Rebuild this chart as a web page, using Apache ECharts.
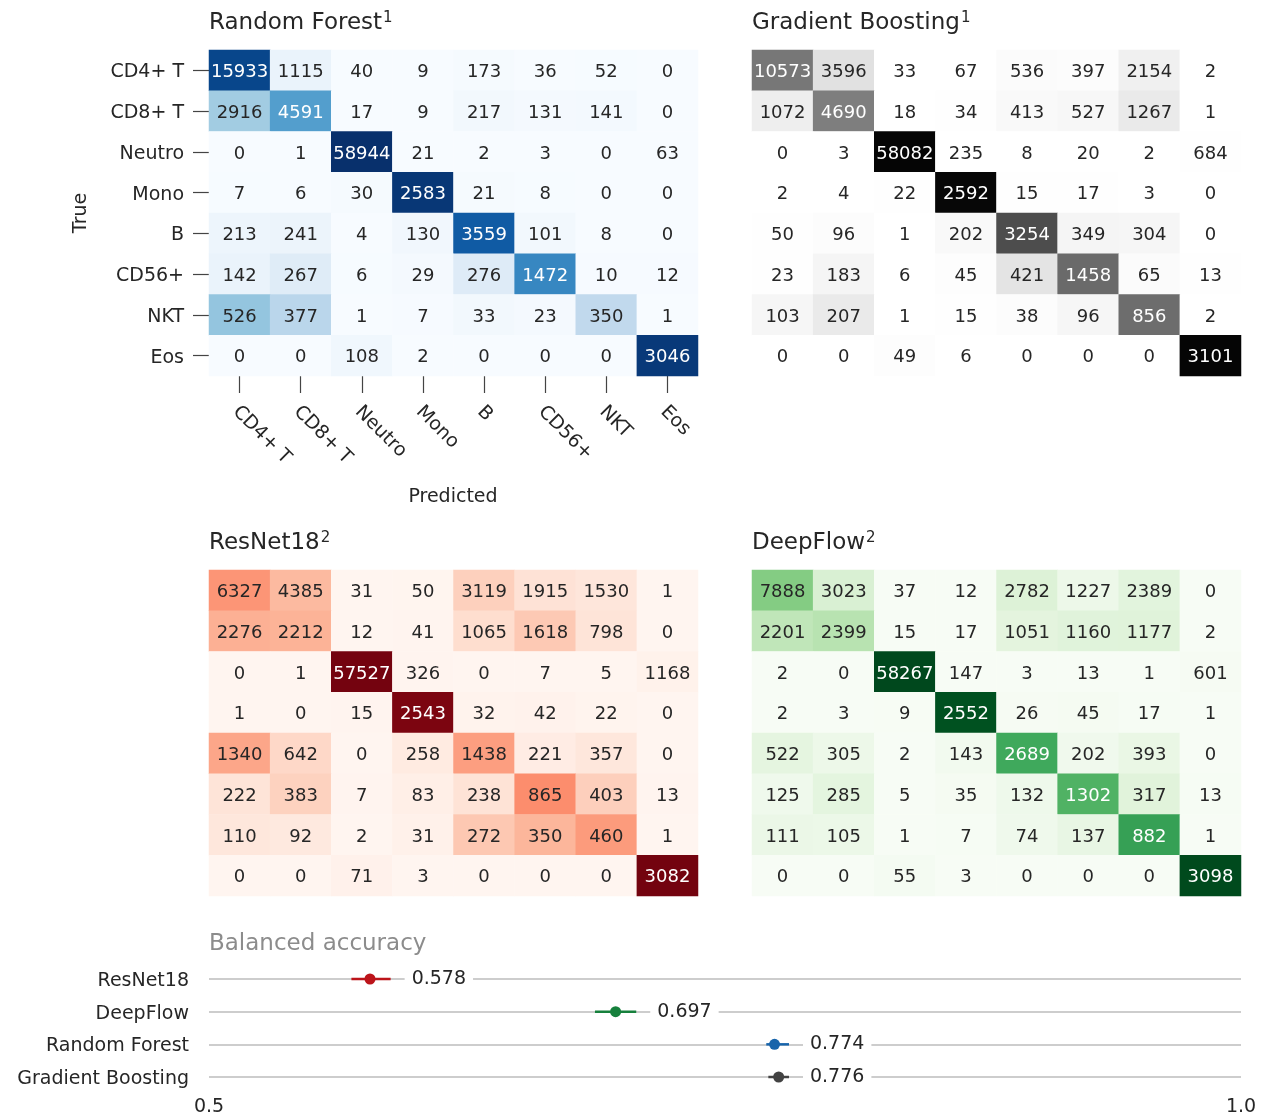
<!DOCTYPE html>
<html>
<head>
<meta charset="utf-8">
<script src="https://cdn.jsdelivr.net/npm/echarts@6/dist/echarts.min.js"></script>
<style>
  html, body { margin: 0; padding: 0; background: #fff; }
  #chart { width: 1265px; height: 1117px; }
</style>
</head>
<body>
<div id="chart"></div>
<script>
// Cell classes (rows = true class, columns = predicted class)
const cellTypes = ['CD4+ T', 'CD8+ T', 'Neutro', 'Mono', 'B', 'CD56+', 'NKT', 'Eos'];

// Confusion matrices, counts
const randomForest = [
  [15933, 1115, 40, 9, 173, 36, 52, 0],
  [2916, 4591, 17, 9, 217, 131, 141, 0],
  [0, 1, 58944, 21, 2, 3, 0, 63],
  [7, 6, 30, 2583, 21, 8, 0, 0],
  [213, 241, 4, 130, 3559, 101, 8, 0],
  [142, 267, 6, 29, 276, 1472, 10, 12],
  [526, 377, 1, 7, 33, 23, 350, 1],
  [0, 0, 108, 2, 0, 0, 0, 3046]
];
const gradientBoosting = [
  [10573, 3596, 33, 67, 536, 397, 2154, 2],
  [1072, 4690, 18, 34, 413, 527, 1267, 1],
  [0, 3, 58082, 235, 8, 20, 2, 684],
  [2, 4, 22, 2592, 15, 17, 3, 0],
  [50, 96, 1, 202, 3254, 349, 304, 0],
  [23, 183, 6, 45, 421, 1458, 65, 13],
  [103, 207, 1, 15, 38, 96, 856, 2],
  [0, 0, 49, 6, 0, 0, 0, 3101]
];
const resNet18 = [
  [6327, 4385, 31, 50, 3119, 1915, 1530, 1],
  [2276, 2212, 12, 41, 1065, 1618, 798, 0],
  [0, 1, 57527, 326, 0, 7, 5, 1168],
  [1, 0, 15, 2543, 32, 42, 22, 0],
  [1340, 642, 0, 258, 1438, 221, 357, 0],
  [222, 383, 7, 83, 238, 865, 403, 13],
  [110, 92, 2, 31, 272, 350, 460, 1],
  [0, 0, 71, 3, 0, 0, 0, 3082]
];
const deepFlow = [
  [7888, 3023, 37, 12, 2782, 1227, 2389, 0],
  [2201, 2399, 15, 17, 1051, 1160, 1177, 2],
  [2, 0, 58267, 147, 3, 13, 1, 601],
  [2, 3, 9, 2552, 26, 45, 17, 1],
  [522, 305, 2, 143, 2689, 202, 393, 0],
  [125, 285, 5, 35, 132, 1302, 317, 13],
  [111, 105, 1, 7, 74, 137, 882, 1],
  [0, 0, 55, 3, 0, 0, 0, 3098]
];

// Balanced accuracy with interval bounds
const models = ['ResNet18', 'DeepFlow', 'Random Forest', 'Gradient Boosting'];
const accuracy = [0.578, 0.697, 0.774, 0.776];
const accLow = [0.569, 0.687, 0.770, 0.771];
const accHigh = [0.588, 0.707, 0.781, 0.781];
const accTicks = [0.5, 1.0];

// Sequential colour ramps (9 stops each)
const BLUES = ['#f7fbff', '#deebf7', '#c6dbef', '#9ecae1', '#6baed6', '#4292c6', '#2171b5', '#08519c', '#08306b'];
const GREYS = ['#ffffff', '#f0f0f0', '#d9d9d9', '#bdbdbd', '#969696', '#737373', '#525252', '#252525', '#000000'];
const REDS = ['#fff5f0', '#fee0d2', '#fcbba1', '#fc9272', '#fb6a4a', '#ef3b2c', '#cb181d', '#a50f15', '#67000d'];
const GREENS = ['#f7fcf5', '#e5f5e0', '#c7e9c0', '#a1d99b', '#74c476', '#41ab5d', '#238b45', '#006d2c', '#00441b'];

const FONT = 'DejaVu Sans';
const INK = '#262626';

function hexToRgb(h) {
  return [1, 3, 5].map(i => parseInt(h.slice(i, i + 2), 16));
}
function rampAt(ramp, t) {
  const p = Math.max(0, Math.min(1, t)) * (ramp.length - 1);
  const i = Math.min(Math.floor(p), ramp.length - 2);
  const f = p - i;
  const a = hexToRgb(ramp[i]), b = hexToRgb(ramp[i + 1]);
  return a.map((v, k) => v + (b[k] - v) * f);
}
function luminance(rgb) {
  const lin = rgb.map(c => {
    c /= 255;
    return c <= 0.03928 ? c / 12.92 : Math.pow((c + 0.055) / 1.055, 2.4);
  });
  return 0.2126 * lin[0] + 0.7152 * lin[1] + 0.0722 * lin[2];
}

// Row-normalised cells; text turns white on dark cells
function cells(matrix, ramp) {
  const out = [];
  matrix.forEach((row, i) => {
    const total = row.reduce((s, v) => s + v, 0);
    row.forEach((v, j) => {
      const norm = v / total;
      const dark = luminance(rampAt(ramp, norm)) < 0.408;
      out.push({ value: [j, i, norm, v], label: { color: dark ? '#ffffff' : INK } });
    });
  });
  return out;
}

const panels = [
  { name: 'Random Forest', note: '1', data: randomForest, ramp: BLUES, left: 209, top: 50, axes: true },
  { name: 'Gradient Boosting', note: '1', data: gradientBoosting, ramp: GREYS, left: 752, top: 50, axes: false },
  { name: 'ResNet18', note: '2', data: resNet18, ramp: REDS, left: 209, top: 570, axes: false },
  { name: 'DeepFlow', note: '2', data: deepFlow, ramp: GREENS, left: 752, top: 570, axes: false }
];
const PANEL_W = 489, PANEL_H = 326;

const grids = [], xAxes = [], yAxes = [], series = [], visualMaps = [], titles = [];

panels.forEach((p, k) => {
  grids.push({ left: p.left, top: p.top, width: PANEL_W, height: PANEL_H });
  titles.push({
    text: p.name + '{sup|' + p.note + '}', left: p.left, top: p.top - 41, padding: 0,
    textStyle: {
      fontFamily: FONT, fontSize: 23, fontWeight: 'normal', color: INK, lineHeight: 28,
      rich: {
        sup: { fontFamily: FONT, fontSize: 15, color: INK, verticalAlign: 'top', lineHeight: 16, padding: [2, 0, 0, 1] }
      }
    }
  });
  xAxes.push({
    type: 'category', gridIndex: k, data: cellTypes, position: 'bottom',
    axisLine: { show: false },
    axisTick: { show: p.axes, alignWithLabel: true, length: 17, lineStyle: { color: '#444', width: 1.2 } },
    axisLabel: { show: p.axes, rotate: -45, margin: 29, fontFamily: FONT, fontSize: 19, color: INK, interval: 0,
                 verticalAlign: 'top', lineHeight: 11 },
    splitLine: { show: false }
  });
  yAxes.push({
    type: 'category', gridIndex: k, data: cellTypes, inverse: true,
    axisLine: { show: false },
    axisTick: { show: p.axes, alignWithLabel: true, length: 16, lineStyle: { color: '#444', width: 1.2 } },
    axisLabel: { show: p.axes, margin: 25, fontFamily: FONT, fontSize: 19, color: INK, interval: 0,
                 verticalAlign: 'top', lineHeight: 4 },
    splitLine: { show: false }
  });
  series.push({
    type: 'heatmap', xAxisIndex: k, yAxisIndex: k,
    data: cells(p.data, p.ramp),
    label: { show: true, fontFamily: FONT, fontSize: 18, offset: [0, 2], formatter: q => String(q.value[3]) },
    itemStyle: { borderWidth: 0 },
    emphasis: { disabled: true }
  });
  visualMaps.push({
    type: 'continuous', show: false, seriesIndex: k, dimension: 2,
    min: 0, max: 1, inRange: { color: p.ramp }
  });
});

// Balanced accuracy panel
const DOT_COLORS = ['#bc141a', '#16803c', '#1764ab', '#424242'];
grids.push({ left: 209, top: 979, width: 1032, height: 101 });
xAxes.push({
  type: 'value', gridIndex: 4, min: accTicks[0], max: accTicks[1], interval: accTicks[1] - accTicks[0],
  axisLine: { show: false }, axisTick: { show: false }, splitLine: { show: false },
  axisLabel: { margin: 21, fontFamily: FONT, fontSize: 19, color: INK, formatter: v => v.toFixed(1) }
});
yAxes.push({
  type: 'category', gridIndex: 4, data: models, inverse: true, boundaryGap: false,
  axisLine: { show: false }, axisTick: { show: false },
  axisLabel: { margin: 20, fontFamily: FONT, fontSize: 19, color: INK, verticalAlign: 'top', lineHeight: 4 },
  splitLine: { show: true, lineStyle: { color: '#bdbdbd', width: 1.5 } }
});
series.push({
  type: 'custom', xAxisIndex: 4, yAxisIndex: 4,
  data: models.map((m, i) => [accuracy[i], accLow[i], accHigh[i], i]),
  encode: { x: 0, y: 3 },
  renderItem: (params, api) => {
    const i = api.value(3);
    const c = DOT_COLORS[i];
    const mid = api.coord([api.value(0), i]);
    const lo = api.coord([api.value(1), i]);
    const hi = api.coord([api.value(2), i]);
    return {
      type: 'group',
      children: [
        { type: 'text', style: {
            x: hi[0] + 14, y: mid[1], text: api.value(0).toFixed(3),
            align: 'left', verticalAlign: 'middle', fontFamily: FONT, fontSize: 19,
            fill: INK, backgroundColor: '#ffffff', padding: [6, 7, 0, 7] } },
        { type: 'line', shape: { x1: lo[0], y1: lo[1], x2: hi[0], y2: hi[1] },
          style: { stroke: c, lineWidth: 2.5 } },
        { type: 'circle', shape: { cx: mid[0], cy: mid[1], r: 5.5 }, style: { fill: c } }
      ]
    };
  }
});

titles.push({
  text: 'Balanced accuracy', left: 209, top: 930, padding: 0,
  textStyle: { fontFamily: FONT, fontSize: 23, fontWeight: 'normal', color: '#8c8c8c', lineHeight: 28 }
});

const chart = echarts.init(document.getElementById('chart'), null, { renderer: 'canvas' });
chart.setOption({
  backgroundColor: '#ffffff',
  animation: false,
  title: titles,
  grid: grids,
  xAxis: xAxes,
  yAxis: yAxes,
  visualMap: visualMaps,
  series: series,
  graphic: [
    { type: 'text', x: 81, y: 213, rotation: Math.PI / 2,
      style: { text: 'True', align: 'center', verticalAlign: 'middle', fontFamily: FONT, fontSize: 19, fill: INK } },
    { type: 'text', x: 453, y: 497,
      style: { text: 'Predicted', align: 'center', verticalAlign: 'middle', fontFamily: FONT, fontSize: 19, fill: INK } }
  ]
});
</script>
</body>
</html>
